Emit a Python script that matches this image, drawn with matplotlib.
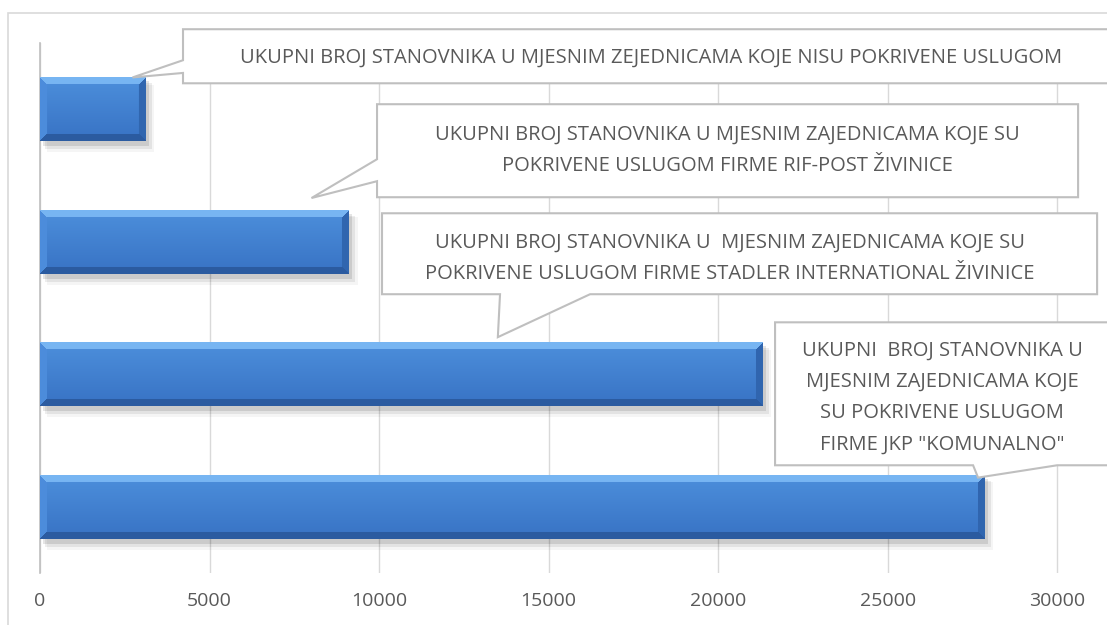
import numpy as np
import matplotlib.pyplot as plt
from matplotlib.patches import Polygon, Rectangle

# podaci
values = [3100, 9100, 21300, 27850]
labels = [
    "UKUPNI BROJ STANOVNIKA U MJESNIM ZEJEDNICAMA KOJE NISU POKRIVENE USLUGOM",
    "UKUPNI BROJ STANOVNIKA U MJESNIM ZAJEDNICAMA KOJE SU\nPOKRIVENE USLUGOM FIRME RIF-POST ŽIVINICE",
    "UKUPNI BROJ STANOVNIKA U  MJESNIM ZAJEDNICAMA KOJE SU\nPOKRIVENE USLUGOM FIRME STADLER INTERNATIONAL ŽIVINICE",
    "UKUPNI  BROJ STANOVNIKA U\nMJESNIM ZAJEDNICAMA KOJE\nSU POKRIVENE USLUGOM\nFIRME JKP \"KOMUNALNO\"",
]
xticks = [0, 5000, 10000, 15000, 20000, 25000, 30000]

# raspored oblacica: (x0, x1, y_top, y_bot), strana, pointer (a, b), tip (udio vrijednosti, pomak y), centar teksta
boxes = [
    dict(rect=(4218, 32600, -0.604, -0.196), side="left", base=(-0.370, -0.274), tip=(0.88, 0.0), txt=(18020, -0.392)),
    dict(rect=(9941, 30619, -0.038, 0.664), side="left", base=(0.377, 0.543), tip=(0.88, -0.09), txt=(20265, 0.309)),
    dict(rect=(10088, 31180, 0.785, 1.396), side="bottom", base=(13569, 16224), tip=(0.634, -0.04), txt=(20354, 1.125)),
    dict(rect=(21681, 32600, 1.608, 2.687), side="bottom", base=(27522, 30000), tip=(0.9935, 0.02), txt=(26608, 2.175)),
]

txtcol = '#595959'
plt.rcParams['font.family'] = ['Open Sans', 'DejaVu Sans']

fig = plt.figure(figsize=(11.07, 6.25), dpi=100)
ax = fig.add_axes([40/1107, 52/625, 1051/1107, 530/625])

# okvir grafikona
fig.patches.append(Rectangle((8/1107, -0.1), 1.2, (625-13)/625 + 0.1, transform=fig.transFigure,
                             fill=False, edgecolor='#D9D9D9', lw=1.2))

y = np.arange(len(values))
h = 0.48
bars = ax.barh(y, values, height=h, color='#3C7AC8', zorder=3)


def bevel(wpx, hpx, b=7):
    img = np.zeros((hpx, wpx, 3))
    ii, jj = np.mgrid[0:hpx, 0:wpx]
    t = ii / (hpx - 1)
    base = np.array([0.30, 0.56, 0.86])[None, None, :] * (1 - t[..., None]) + \
        np.array([0.22, 0.45, 0.77])[None, None, :] * t[..., None]
    img[:] = base
    d = np.stack([ii, hpx - 1 - ii, jj, wpx - 1 - jj])
    m = d.argmin(0)
    dm = d.min(0)
    cols = [np.array([0.47, 0.71, 0.95]), np.array([0.17, 0.36, 0.63]),
            np.array([0.30, 0.55, 0.86]), np.array([0.19, 0.40, 0.69])]
    for k in range(4):
        sel = (m == k) & (dm < b)
        img[sel] = cols[k]
    return img


for p in bars:
    x0, y0 = p.get_x(), p.get_y()
    w, hh = p.get_width(), p.get_height()
    # sjena
    for k, a in enumerate([0.10, 0.07, 0.04]):
        off = 90 + k * 60
        ax.add_patch(Rectangle((x0 + off, y0 + 0.03 + k*0.012), w + off*0.3, hh + 0.01 + k*0.01,
                               facecolor='#000000', alpha=a, lw=0, zorder=2))
    wpx = max(int(w * 0.0339), 20)
    img = bevel(wpx, 64)
    ax.imshow(img, extent=(x0, x0 + w, y0 + hh, y0), aspect='auto', zorder=4,
              interpolation='bilinear', clip_path=p, clip_on=True)

ax.set_xlim(0, 31000)
ax.set_ylim(3.5, -0.5)
ax.set_yticks([])
ax.set_xticks(xticks)
ax.set_xticklabels([str(t) for t in xticks], fontsize=14, color=txtcol)
ax.tick_params(axis='x', length=0, pad=14)
ax.grid(axis='x', color='#D9D9D9', lw=1, zorder=0)
ax.set_axisbelow(True)
for s in ['top', 'right', 'bottom']:
    ax.spines[s].set_visible(False)
ax.spines['left'].set_color('#BFBFBF')
ax.spines['left'].set_linewidth(1.2)

# oblacici
for i, bx in enumerate(boxes):
    x0, x1, yt, yb = bx['rect']
    tip = (values[i] * bx['tip'][0], y[i] - h/2 + bx['tip'][1])
    a, b = bx['base']
    if bx['side'] == 'left':
        pts = [(x0, yt), (x1, yt), (x1, yb), (x0, yb), (x0, b), tip, (x0, a)]
    else:
        pts = [(x0, yt), (x1, yt), (x1, yb), (b, yb), tip, (a, yb), (x0, yb)]
    ax.add_patch(Polygon(pts, closed=True, facecolor='white', edgecolor='#BFBFBF',
                         lw=1.5, zorder=6, clip_on=False))
    ax.text(bx['txt'][0], bx['txt'][1], labels[i], ha='center', va='center',
            fontsize=14.5, color=txtcol, linespacing=1.75, zorder=7)

fig.savefig('out.png', dpi=100)
